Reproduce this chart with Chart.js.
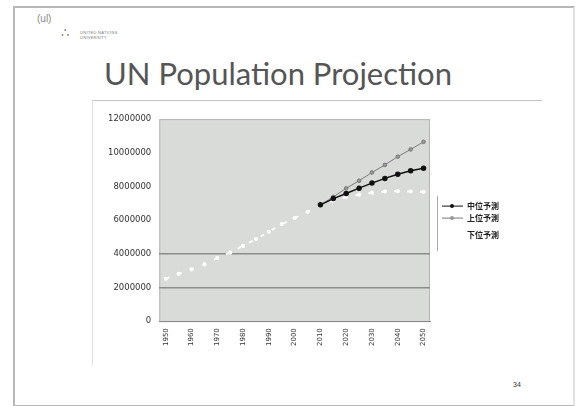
<!DOCTYPE html>
<html>
<head>
<meta charset="utf-8">
<script src="https://cdn.jsdelivr.net/npm/chart.js@4/dist/chart.umd.min.js"></script>
<style>
  html, body { margin: 0; padding: 0; background: #fff; }
  body { width: 576px; height: 406px; position: relative; overflow: hidden; font-family: "Liberation Sans", sans-serif; }
  #slide { position: absolute; left: 13px; top: 6px; width: 558px; height: 397px; border: 2px solid #b8b8b8; border-right-color: #e2e2e2; }
  #logo1 { position: absolute; left: 37px; top: 13px; font-size: 10px; color: #888; }
  #logo2 { position: absolute; left: 61px; top: 25px; font-size: 13px; color: #888; }
  #uni { position: absolute; left: 80px; top: 30px; font-size: 4px; line-height: 5px; color: #777; letter-spacing: 0.3px; }
  #title { position: absolute; left: 104px; top: 54px; font-family: Lato, sans-serif; font-size: 31px; color: #555; white-space: nowrap; }
  #rule { position: absolute; left: 92px; top: 100px; width: 450px; height: 0; border-top: 1px solid #c4c4c4; }
  #frame { position: absolute; left: 92px; top: 100px; width: 0; height: 265px; border-left: 1px solid #e0e0e0; }
  #page { position: absolute; left: 513px; top: 381px; font-size: 7px; color: #333; }
  #wrap { position: absolute; left: 100px; top: 106px; width: 430px; height: 244px; }
</style>
</head>
<body>
<div id="slide"></div>
<div id="logo1">(ul)</div>
<div id="logo2">&#x2234;</div>
<div id="uni">UNITED NATIONS<br>UNIVERSITY</div>
<div id="title">UN Population Projection</div>
<div id="rule"></div>
<div id="frame"></div>
<div id="page">34</div>
<div id="wrap"><canvas id="chart"></canvas></div>
<script>
// years every 5, labels every 10
const years = [1950, 1955, 1960, 1965, 1970, 1975, 1980, 1985, 1990, 1995, 2000,
  2005, 2010, 2015, 2020, 2025, 2030, 2035, 2040, 2045, 2050];

// 中位予測 (medium)
const medium = [null, null, null, null, null, null, null, null, null, null, null,
  null, 6910000, 7280000, 7580000, 7900000, 8200000, 8480000, 8730000, 8930000, 9080000];

// 上位予測 (high)
const high = [null, null, null, null, null, null, null, null, null, null, null,
  null, 6910000, 7380000, 7890000, 8340000, 8830000, 9280000, 9770000, 10200000, 10650000];

// 下位予測 (low, incl. history)
const low = [2520000, 2810000, 3080000, 3370000, 3750000, 4070000, 4470000, 4870000, 5310000, 5760000, 6120000,
  6490000, 6910000, 7170000, 7370000, 7510000, 7620000, 7700000, 7720000, 7700000, 7680000];

const seriesNames = ['中位予測', '上位予測', '下位予測'];
const legendRows = [0, 12, 29];

const legendPlugin = {
  id: 'sideLegend',
  afterDraw(chart) {
    const ctx = chart.ctx;
    const x0 = chart.chartArea.right + 7;
    const y0 = chart.chartArea.top + 87;
    ctx.save();
    ctx.strokeStyle = '#aaa';
    ctx.lineWidth = 1;
    ctx.beginPath();
    ctx.moveTo(x0 + 0.5, y0 - 10);
    ctx.lineTo(x0 + 0.5, y0 + 45);
    ctx.stroke();
    chart.data.datasets.forEach((ds, i) => {
      const y = y0 + legendRows[i];
      ctx.strokeStyle = ds.borderColor;
      ctx.lineWidth = 1;
      ctx.setLineDash([]);
      ctx.beginPath();
      ctx.moveTo(x0 + 5, y);
      ctx.lineTo(x0 + 26, y);
      ctx.stroke();
      ctx.fillStyle = ds.pointBackgroundColor;
      ctx.beginPath();
      ctx.arc(x0 + 15, y, 2, 0, Math.PI * 2);
      ctx.fill();
      ctx.fillStyle = '#222';
      ctx.font = 'bold 8px "Noto Sans CJK JP"';
      ctx.textBaseline = 'middle';
      ctx.fillText(ds.label, x0 + 30, y);
    });
    ctx.restore();
  }
};

const plotBg = {
  id: 'plotBg',
  beforeDraw(chart) {
    const { ctx, chartArea: a } = chart;
    ctx.save();
    ctx.fillStyle = '#d9dbd9';
    ctx.fillRect(a.left, a.top, a.right - a.left, a.bottom - a.top);
    ctx.strokeStyle = '#b4b6b4';
    ctx.lineWidth = 1;
    ctx.strokeRect(a.left + 0.5, a.top + 0.5, a.right - a.left - 1, a.bottom - a.top);
    ctx.restore();
  }
};

new Chart(document.getElementById('chart'), {
  type: 'line',
  data: {
    labels: years,
    datasets: [
      {
        label: seriesNames[0], data: medium,
        borderColor: '#111', borderWidth: 1.5,
        pointBackgroundColor: '#111', pointBorderColor: '#111', pointRadius: 2
      },
      {
        label: seriesNames[1], data: high,
        borderColor: '#7a7a7a', borderWidth: 1,
        pointBackgroundColor: '#999', pointBorderColor: '#777', pointRadius: 1.8
      },
      {
        label: seriesNames[2], data: low,
        borderColor: '#fff', borderWidth: 1.8, borderDash: [4, 9],
        pointBackgroundColor: '#fff', pointBorderColor: '#fff', pointRadius: 1.2
      }
    ]
  },
  options: {
    responsive: true,
    maintainAspectRatio: false,
    animation: false,
    layout: { padding: { left: 0, right: 100, top: 2, bottom: 0 } },
    plugins: { legend: { display: false }, tooltip: { enabled: false } },
    scales: {
      x: {
        offset: true,
        grid: { display: false, drawTicks: true, tickLength: 3 },
        border: { color: '#8a8a8a' },
        ticks: {
          color: '#333', font: { size: 7, family: 'DejaVu Sans' },
          maxRotation: 90, minRotation: 90, autoSkip: false, padding: 4,
          callback: function(v, i) { return i % 2 === 0 ? this.getLabelForValue(v) : ''; }
        }
      },
      y: {
        min: 0, max: 12000000,
        ticks: {
          stepSize: 2000000, color: '#333', padding: 8,
          font: { size: 8.5, family: 'DejaVu Sans' },
          callback: v => String(v)
        },
        grid: {
          drawTicks: false,
          color: ctx => (ctx.tick && (ctx.tick.value === 2000000 || ctx.tick.value === 4000000)) ? '#8c8e8c' : 'rgba(0,0,0,0)',
          lineWidth: 1.5
        },
        border: { display: false }
      }
    }
  },
  plugins: [plotBg, legendPlugin]
});
</script>
</body>
</html>
